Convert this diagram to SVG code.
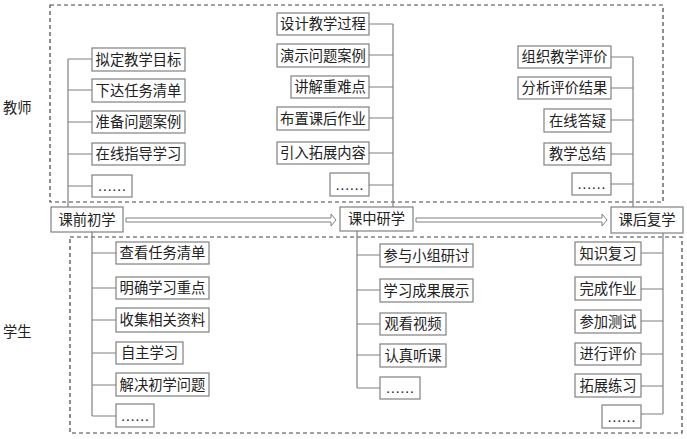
<svg xmlns="http://www.w3.org/2000/svg" width="687" height="439" viewBox="0 0 687 439">
<style>
.box{fill:#fff;stroke:#808080;stroke-width:1.2}
.dash{fill:none;stroke:#444;stroke-width:1.2;stroke-dasharray:4,3}
.ln{fill:none;stroke:#808080;stroke-width:1.2}
.arr{fill:#fff;stroke:#808080;stroke-width:1}
text{font-family:"Liberation Serif","Noto Sans CJK SC",serif;font-size:14.3px;fill:#222;dominant-baseline:central}
.c{text-anchor:middle}
</style>
<rect width="687" height="439" fill="#fff"/>
<rect class="dash" x="50" y="5" width="613" height="197"/>
<rect class="dash" x="70" y="237" width="612" height="196"/>
<text x="3" y="108">教师</text>
<text x="3" y="332">学生</text>
<g id="connectors">
<path class="ln" d="M68,59V207M68,59H92M68,90H92M68,122H92M68,154H92M68,186H92"/>
<path class="ln" d="M393,24V207M369,24H393M369,55H393M369,87H393M369,118H393M369,153H393M369,185H393"/>
<path class="ln" d="M633,57V207M611,57H633M611,88H633M611,120H633M611,154H633M611,184H633"/>
<path class="ln" d="M92,232V416M92,253H116M92,288H116M92,320H116M92,353H116M92,385H116M92,416H116"/>
<path class="ln" d="M357,231V388M357,255H380M357,290H380M357,324H380M357,355H380M357,388H380"/>
<path class="ln" d="M663,233V414M641,253H663M641,289H663M641,321H663M641,354H663M641,386H663M641,414H663"/>
<polygon class="arr" points="126,218 331,218 331,214 336,220 331,226 331,222 126,222"/>
<polygon class="arr" points="416,218 602,218 602,214 607,220 602,226 602,222 416,222"/>
</g>
<g id="stage1"><rect class="box" x="51" y="207" width="72" height="25"/><text class="c" x="87" y="219.5">课前初学</text></g>
<g id="stage2"><rect class="box" x="340" y="207" width="73" height="24"/><text class="c" x="376.5" y="219">课中研学</text></g>
<g id="stage3"><rect class="box" x="611" y="207" width="72" height="26"/><text class="c" x="647" y="220">课后复学</text></g>
<g id="t1a"><rect class="box" x="92" y="48" width="93" height="23"/><text class="c" x="138.5" y="59.5">拟定教学目标</text></g>
<g id="t1b"><rect class="box" x="92" y="79" width="93" height="23"/><text class="c" x="138.5" y="90.5">下达任务清单</text></g>
<g id="t1c"><rect class="box" x="92" y="111" width="93" height="22"/><text class="c" x="138.5" y="122">准备问题案例</text></g>
<g id="t1d"><rect class="box" x="92" y="143" width="93" height="22"/><text class="c" x="138.5" y="154">在线指导学习</text></g>
<g id="t1e"><rect class="box" x="92" y="175" width="40" height="22"/><text class="c" x="112" y="186">……</text></g>
<g id="t2a"><rect class="box" x="277" y="13" width="92" height="22"/><text class="c" x="323" y="24">设计教学过程</text></g>
<g id="t2b"><rect class="box" x="277" y="44" width="92" height="23"/><text class="c" x="323" y="55.5">演示问题案例</text></g>
<g id="t2c"><rect class="box" x="291" y="76" width="78" height="22"/><text class="c" x="330" y="87">讲解重难点</text></g>
<g id="t2d"><rect class="box" x="277" y="107" width="92" height="23"/><text class="c" x="323" y="118.5">布置课后作业</text></g>
<g id="t2e"><rect class="box" x="277" y="142" width="92" height="22"/><text class="c" x="323" y="153">引入拓展内容</text></g>
<g id="t2f"><rect class="box" x="330" y="173" width="39" height="23"/><text class="c" x="349.5" y="184.5">……</text></g>
<g id="t3a"><rect class="box" x="518" y="46" width="93" height="22"/><text class="c" x="564.5" y="57">组织教学评价</text></g>
<g id="t3b"><rect class="box" x="518" y="77" width="93" height="22"/><text class="c" x="564.5" y="88">分析评价结果</text></g>
<g id="t3c"><rect class="box" x="544" y="109" width="67" height="23"/><text class="c" x="577.5" y="120.5">在线答疑</text></g>
<g id="t3d"><rect class="box" x="544" y="143" width="67" height="22"/><text class="c" x="577.5" y="154">教学总结</text></g>
<g id="t3e"><rect class="box" x="572" y="173" width="39" height="22"/><text class="c" x="591.5" y="184">……</text></g>
<g id="s1a"><rect class="box" x="116" y="242" width="93" height="22"/><text class="c" x="162.5" y="253">查看任务清单</text></g>
<g id="s1b"><rect class="box" x="116" y="277" width="93" height="22"/><text class="c" x="162.5" y="288">明确学习重点</text></g>
<g id="s1c"><rect class="box" x="116" y="308" width="93" height="24"/><text class="c" x="162.5" y="320">收集相关资料</text></g>
<g id="s1d"><rect class="box" x="116" y="342" width="67" height="22"/><text class="c" x="149.5" y="353">自主学习</text></g>
<g id="s1e"><rect class="box" x="116" y="373" width="93" height="23"/><text class="c" x="162.5" y="384.5">解决初学问题</text></g>
<g id="s1f"><rect class="box" x="116" y="404" width="38" height="23"/><text class="c" x="135" y="415.5">……</text></g>
<g id="s2a"><rect class="box" x="380" y="244" width="93" height="23"/><text class="c" x="426.5" y="255.5">参与小组研讨</text></g>
<g id="s2b"><rect class="box" x="380" y="279" width="93" height="23"/><text class="c" x="426.5" y="290.5">学习成果展示</text></g>
<g id="s2c"><rect class="box" x="380" y="313" width="66" height="22"/><text class="c" x="413" y="324">观看视频</text></g>
<g id="s2d"><rect class="box" x="380" y="344" width="66" height="23"/><text class="c" x="413" y="355.5">认真听课</text></g>
<g id="s2e"><rect class="box" x="380" y="377" width="40" height="22"/><text class="c" x="400" y="388">……</text></g>
<g id="s3a"><rect class="box" x="575" y="242" width="66" height="23"/><text class="c" x="608" y="253.5">知识复习</text></g>
<g id="s3b"><rect class="box" x="575" y="277" width="66" height="23"/><text class="c" x="608" y="288.5">完成作业</text></g>
<g id="s3c"><rect class="box" x="575" y="310" width="66" height="23"/><text class="c" x="608" y="321.5">参加测试</text></g>
<g id="s3d"><rect class="box" x="575" y="343" width="66" height="22"/><text class="c" x="608" y="354">进行评价</text></g>
<g id="s3e"><rect class="box" x="575" y="374" width="66" height="23"/><text class="c" x="608" y="385.5">拓展练习</text></g>
<g id="s3f"><rect class="box" x="602" y="405" width="39" height="23"/><text class="c" x="621.5" y="416.5">……</text></g>
</svg>
